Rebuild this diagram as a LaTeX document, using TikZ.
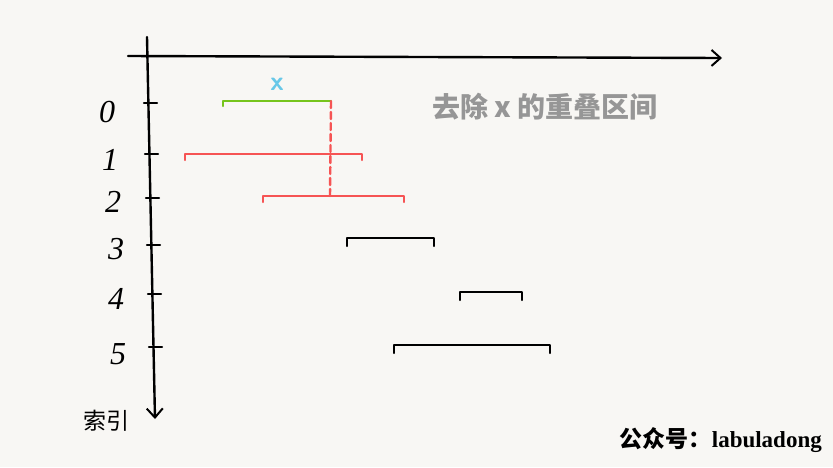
\documentclass[tikz,border=0pt]{standalone}
\usepackage{fontspec}
\setmainfont{Liberation Serif}
\newfontfamily\cjk{Noto Sans CJK SC}
\usetikzlibrary{arrows.meta}
\definecolor{paper}{RGB}{248,247,244}
\definecolor{xgreen}{RGB}{118,196,28}
\definecolor{xcyan}{RGB}{104,200,232}
\definecolor{ovred}{RGB}{246,84,84}
\definecolor{notegray}{RGB}{150,150,150}

\begin{document}
\begin{tikzpicture}[x=1pt, y=-1pt, line cap=round, line join=round, >={Straight Barb[length=9pt,width=16pt,line width=2pt]}]
		\tikzstyle{axis}=[draw=black, line width=2.4pt]
		\tikzstyle{tick}=[draw=black, line width=2.2pt]
		\tikzstyle{ival}=[line width=2.4pt]
		\tikzstyle{idx}=[font=\fontsize{32}{34}\selectfont\itshape, inner sep=0pt]
		
		% paper and frame
		\fill[paper] (0,0) rectangle (833,467);
		\useasboundingbox (0,0) rectangle (833,467);
		
		% axes
		\coordinate (h0) at (128,56);
		\coordinate (h1) at (722,58);
		\coordinate (v0) at (147,37);
		\coordinate (v1) at (155,419);
		\draw[axis, ->] (h0) -- (h1);
		\draw[axis, ->] (v0) -- (v1);
		\node[font=\cjk\fontsize{23}{25}\selectfont, inner sep=0pt] (axname) at (106,421) {索引};
		
		% index ticks and labels
		\foreach \i/\y/\tx in {0/103/150, 1/154/151, 2/198/152, 3/245/153, 4/294/154, 5/347/155} {
			\coordinate (t\i) at (\tx,\y);
			\draw[tick] ([xshift=-6pt]t\i) -- ([xshift=7pt]t\i);
		}
		\node[idx] (n0) at (107,112) {0};
		\node[idx] (n1) at (110,160) {1};
		\node[idx] (n2) at (113,202) {2};
		\node[idx] (n3) at (116,249) {3};
		\node[idx] (n4) at (116,299) {4};
		\node[idx] (n5) at (118,354) {5};
		
		% interval x
		\coordinate (xa) at (223,101);
		\coordinate (xb) at (331,101);
		\draw[ival, xgreen] ([yshift=-5pt]xa) -- (xa) -- (xb) -- ([yshift=-5pt]xb);
		\node[font=\sffamily\bfseries\fontsize{27}{28}\selectfont, text=xcyan, inner sep=0pt] (xlab) at (277,84) {x};
		
		% overlapping ones
		\coordinate (a1) at (185,154);
		\coordinate (b1) at (362,154);
		\coordinate (a2) at (263,196);
		\coordinate (b2) at (404,196);
		\draw[ival, ovred] ([yshift=-6pt]a1) -- (a1) -- (b1) -- ([yshift=-6pt]b1);
		\draw[ival, ovred] ([yshift=-6pt]a2) -- (a2) -- (b2) -- ([yshift=-6pt]b2);
		\coordinate (xc) at (330,196);
		\draw[ival, ovred, dashed, dash pattern=on 7pt off 4pt] (xb) -- (xc);
		
		% the rest
		\coordinate (a3) at (347,238);
		\coordinate (b3) at (434,238);
		\coordinate (a4) at (460,292);
		\coordinate (b4) at (522,292);
		\coordinate (a5) at (394,345);
		\coordinate (b5) at (550,345);
		\foreach \k in {3,4,5}
			\draw[ival, black] ([yshift=-8pt]a\k) -- (a\k) -- (b\k) -- ([yshift=-8pt]b\k);
		
		\node[font=\cjk\bfseries\fontsize{28}{30}\selectfont, text=notegray, inner sep=0pt] (note) at (545,107) {去除 x 的重叠区间};
		\node[anchor=east, inner sep=0pt, font=\fontsize{23}{25}\selectfont\bfseries] (sig) at (822,440) {{\cjk 公众号：}labuladong};
\end{tikzpicture}
\end{document}
